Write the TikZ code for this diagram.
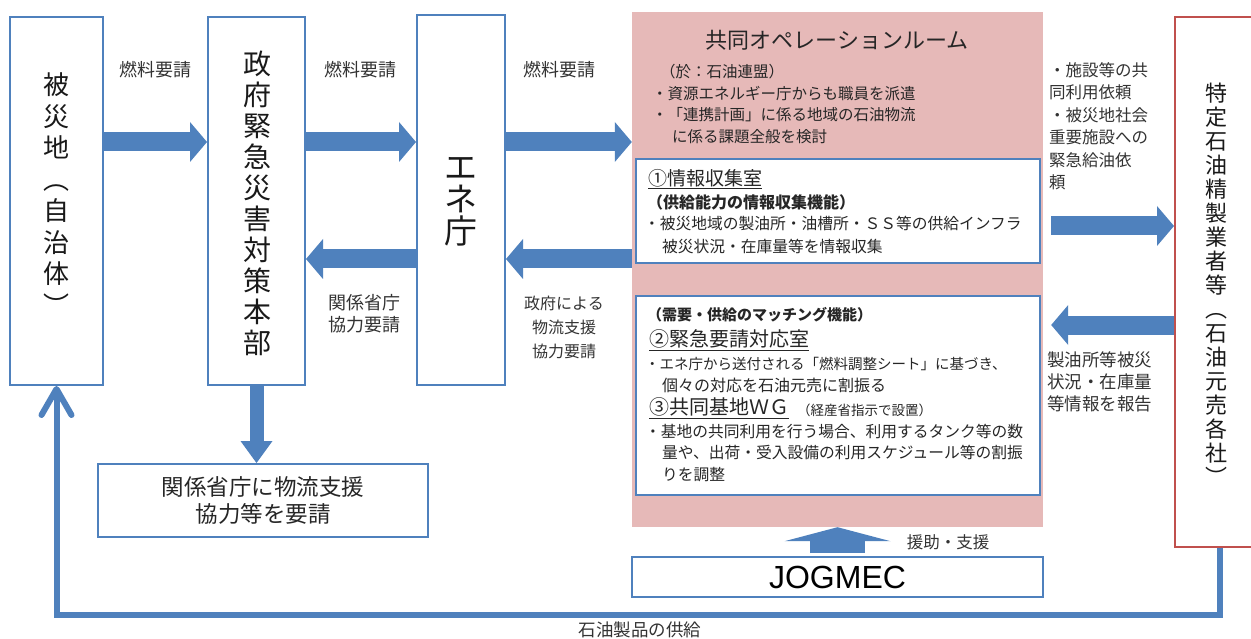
\documentclass[tikz,border=0pt]{standalone}
\usepackage{fontspec}
\setmainfont{Noto Sans CJK JP}
\newfontfamily\latinsans{Liberation Sans}
\usetikzlibrary{arrows.meta}
\definecolor{obl}{HTML}{4F81BD}
\definecolor{opk}{HTML}{E6B9B8}
\definecolor{ord}{HTML}{C0504D}
\newcommand\fsz[2]{\fontsize{#1}{#2}\selectfont}
\begin{document}
\begin{tikzpicture}[x=1pt,y=-1pt,
  box/.style={draw=obl, line width=2pt, fill=white, inner sep=0pt},
  rbox/.style={draw=ord, line width=2pt, fill=white, inner sep=0pt},
  blk/.style={draw=obl, line width=19pt, -{Triangle[length=17pt,width=40pt,line width=0pt]}},
  txt/.style={inner sep=0pt, text=black!85},
  vt/.style={inner sep=0pt, align=center, text=black!90},
  lft/.style={inner sep=0pt, anchor=west, text=black!85},
  lbl/.style={inner sep=0pt, align=center, text=black!80, font=\fsz{16}{22}}]
\useasboundingbox (0,0) rectangle (1251,639);
\fill[white] (0,0) rectangle (1251,639);

% main boxes
\node[box, minimum width=93pt, minimum height=368pt] (hisai) at (56.5,201) {};
\node[box, minimum width=97pt, minimum height=368pt] (seifu) at (256.5,201) {};
\node[box, minimum width=88pt, minimum height=370pt] (ene) at (461,200) {};
\node[fill=opk, minimum width=411pt, minimum height=515pt, inner sep=0pt] (ops) at (837.5,269.5) {};
\node[box, minimum width=404pt, minimum height=104pt] (info) at (838,211) {};
\node[box, minimum width=404pt, minimum height=199pt] (match) at (838,395.5) {};
\node[box, minimum width=411pt, minimum height=40pt, font=\latinsans\fsz{32}{34}] (jog) at (837.5,577) {JOGMEC};
\node[box, minimum width=330pt, minimum height=73pt, align=center, font=\fsz{22.5}{27}, text=black!85] (kankei) at (263,500.5) {関係省庁に物流支援\\協力等を要請};
\node[rbox, minimum width=90pt, minimum height=530pt] (tok) at (1220,282) {};

% vertical texts
\node[vt, font=\fsz{26}{31.5}] (thisai) at (56,194) {被\\災\\地\\︵\\自\\治\\体\\︶};
\node[vt, font=\fsz{28}{31}] (tseifu) at (257,203.5) {政\\府\\緊\\急\\災\\害\\対\\策\\本\\部};
\node[vt, font=\fsz{33}{32}] (tene) at (461,202) {エ\\ネ\\庁};
\node[vt, font=\fsz{22}{24}] (ttok) at (1216,284) {特\\定\\石\\油\\精\\製\\業\\者\\等\\︵\\石\\油\\元\\売\\各\\社\\︶};

% block arrows
\draw[blk] (hisai.east |- 0,142) -- (seifu.west |- 0,142);
\draw[blk] (seifu.east |- 0,142) -- (ene.west |- 0,142);
\draw[blk] (ene.east |- 0,142) -- (ops.west |- 0,142);
\draw[blk] (ene.west |- 0,259) -- (seifu.east |- 0,259);
\draw[blk] (ops.west |- 0,259) -- (ene.east |- 0,259);
\draw[blk, shorten <=8pt] (ops.east |- 0,226) -- (tok.west |- 0,226);
\draw[blk, shorten >=8pt] (tok.west |- 0,325) -- (ops.east |- 0,325);
\draw[draw=obl, line width=14pt, -{Triangle[length=22pt,width=32pt,line width=0pt]}] (seifu.south) -- (kankei.north -| seifu.south);
\draw[draw=obl, line width=55pt, shorten <=3pt, -{Triangle[length=14pt,width=106pt,line width=0pt]}] (jog.north) -- (ops.south -| jog.north);
\draw[draw=obl, line width=6pt, -{Straight Barb[length=26pt,width=30pt,round]}] (tok.south) -- (tok.south |- 0,615) -| (hisai.south);

% arrow labels
\node[lbl, font=\fsz{18}{22}] (l1) at (155,70) {燃料要請};
\node[lbl, font=\fsz{18}{22}] (l2) at (360,70) {燃料要請};
\node[lbl, font=\fsz{18}{22}] (l3) at (559,70) {燃料要請};
\node[lbl, font=\fsz{18}{22}] (l4) at (364,314) {関係省庁\\協力要請};
\node[lbl, font=\fsz{16}{24}] (l5) at (564,327) {政府による\\物流支援\\協力要請};
\node[lbl, align=left, anchor=north west, font=\fsz{16.5}{22.5}] (l6) at (1049,62) {・施設等の共\\同利用依頼\\・被災地社会\\重要施設への\\緊急給油依\\頼};
\node[lbl, align=left, anchor=north west, font=\fsz{17.5}{22}] (l7) at (1047,352) {製油所等被災\\状況・在庫量\\等情報を報告};
\node[lbl, font=\fsz{17.5}{22}] (l8) at (640,630) {石油製品の供給};
\node[lbl, font=\fsz{16.5}{20}] (l9) at (948,542) {援助・支援};

% operation room texts
\node[txt, font=\fsz{22}{26}] (optitle) at (837,40) {共同オペレーションルーム};
\node[lft, font=\fsz{15.5}{20}] (o1) at (660,72) {（於：石油連盟）};
\node[lft, font=\fsz{15.5}{20}] (o2) at (652,94) {・資源エネルギー庁からも職員を派遣};
\node[lft, font=\fsz{15.5}{20}] (o3) at (652,115) {・「連携計画」に係る地域の石油物流};
\node[lft, font=\fsz{15.5}{20}] (o4) at (672,137) {に係る課題全般を検討};

% info room texts
\node[lft, font=\fsz{19}{22}] (i1) at (648,179) {\underline{①情報収集室}};
\node[lft, font=\bfseries\fsz{16}{20}] (i2) at (647,202) {（供給能力の情報収集機能）};
\node[lft, font=\fsz{15.75}{20}] (i3) at (644,224) {・被災地域の製油所・油槽所・ＳＳ等の供給インフラ};
\node[lft, font=\fsz{15.75}{20}] (i4) at (662,247) {被災状況・在庫量等を情報収集};

% matching texts
\node[lft, font=\bfseries\fsz{15}{20}] (m1) at (647,315) {（需要・供給のマッチング機能）};
\node[lft, font=\fsz{20}{22}] (m2) at (649,340) {\underline{②緊急要請対応室}};
\node[lft, font=\fsz{14.5}{20}] (m3) at (645,364) {・エネ庁から送付される「燃料調整シート」に基づき、};
\node[lft, font=\fsz{16}{20}] (m4) at (662,385) {個々の対応を石油元売に割振る};
\node[lft, font=\fsz{20}{22}] (m5) at (649,408) {\underline{③共同基地ＷＧ}};
\node[lft, font=\fsz{13.5}{18}] (m6) at (797,410) {（経産省指示で設置）};
\node[lft, font=\fsz{15.75}{20}] (m7) at (645,432) {・基地の共同利用を行う場合、利用するタンク等の数};
\node[lft, font=\fsz{15.75}{20}] (m8) at (662,453) {量や、出荷・受入設備の利用スケジュール等の割振};
\node[lft, font=\fsz{15.75}{20}] (m9) at (662,475) {りを調整};
\end{tikzpicture}
\end{document}
